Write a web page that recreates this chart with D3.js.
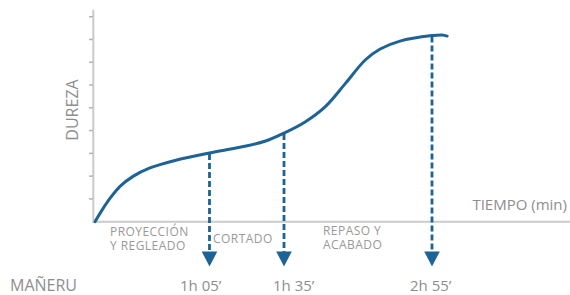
<!DOCTYPE html>
<html>
<head>
<meta charset="utf-8">
<script src="https://cdn.jsdelivr.net/npm/d3@7"></script>
<style>
  body { margin: 0; background: #fff; }
  text { font-family: "Open Sans", "Noto Sans", sans-serif; fill: #8e8e8e; }
</style>
</head>
<body>
<div id="chart"></div>
<script>
// curve: time in minutes (schematic) and hardness
var minutes = [0, 4, 8.5, 14.2, 21.6, 31.2, 45.4, 65, 77.3, 87.3, 95, 106.4, 117.2, 128, 138.9, 147, 157.7, 175, 180.5, 183.2];
var dureza  = [0, 0.51, 1.02, 1.55, 1.99, 2.36, 2.69, 3.02, 3.27, 3.53, 3.89, 4.38, 5.04, 6.05, 7.1, 7.58, 7.93, 8.17, 8.2, 8.15];

// moments marked with arrows
var markMinutes = [65, 95, 175];
var markLabels = ["1h 05\u2019", "1h 35\u2019", "2h 55\u2019"];

var yTicks = [1, 2, 3, 4, 5, 6, 7, 8, 9];

var phases = [
  { lines: ["PROYECCI\u00d3N", "Y REGLEADO"] },
  { lines: ["CORTADO"] },
  { lines: ["REPASO Y", "ACABADO"] }
];

var width = 570, height = 295;
var blue = "#1d6396";
var axisGray = "#cacaca";

var svg = d3.select("#chart").append("svg")
    .attr("width", width)
    .attr("height", height);

// the time axis is not to scale in the original, so piecewise
var x = d3.scaleLinear()
    .domain([0, 65, 95, 175, 240])
    .range([95, 209.5, 284, 432, 552]);
var y = d3.scaleLinear()
    .domain([0, 9])
    .range([221.7, 16.7]);

// axes
svg.append("line")
    .attr("x1", 93.3).attr("x2", 93.3)
    .attr("y1", y(9.3)).attr("y2", y(0) + 1)
    .attr("stroke", axisGray).attr("stroke-width", 2);
svg.append("line")
    .attr("x1", 93.3).attr("x2", width)
    .attr("y1", y(0)).attr("y2", y(0))
    .attr("stroke", axisGray).attr("stroke-width", 2);

svg.append("g").selectAll("line")
    .data(yTicks)
    .enter().append("line")
    .attr("x1", 89).attr("x2", 93)
    .attr("y1", function (d) { return y(d); })
    .attr("y2", function (d) { return y(d); })
    .attr("stroke", "#b4b4b4").attr("stroke-width", 1.5);

svg.append("text")
    .attr("transform", "translate(77.5,110) rotate(-90)")
    .attr("text-anchor", "middle")
    .style("font-size", "16px")
    .text("DUREZA");

svg.append("text")
    .attr("x", 567).attr("y", 210)
    .attr("text-anchor", "end")
    .style("font-size", "15px")
    .text("TIEMPO (min)");

// curve
var points = minutes.map(function (m, i) { return [m, dureza[i]]; });
var line = d3.line()
    .x(function (d) { return x(d[0]); })
    .y(function (d) { return y(d[1]); })
    .curve(d3.curveCatmullRom.alpha(0.5));

svg.append("path")
    .datum(points)
    .attr("d", line)
    .attr("fill", "none")
    .attr("stroke", blue)
    .attr("stroke-width", 3)
    .attr("stroke-linecap", "round");

// dashed drops + arrowheads
var arrowTop = 251.5, arrowTip = 266.5, arrowHalf = 7.8;
var interp = d3.scaleLinear().domain(minutes).range(dureza);

markMinutes.forEach(function (m, i) {
    var cx = x(m);
    svg.append("line")
        .attr("x1", cx).attr("x2", cx)
        .attr("y1", y(interp(m)) + 1).attr("y2", arrowTop + 1)
        .attr("stroke", blue)
        .attr("stroke-width", 2.8)
        .attr("stroke-dasharray", "6,3");
    svg.append("path")
        .attr("d", "M" + (cx - arrowHalf) + "," + arrowTop + "L" + (cx + arrowHalf) + "," + arrowTop + "L" + cx + "," + arrowTip + "Z")
        .attr("fill", blue);
});

// phase names under the axis
var phaseX = [110, 213, 323];
var phaseY = [[236, 250], [243], [235, 249.3]];
phases.forEach(function (p, i) {
    var t = svg.append("text")
        .attr("x", phaseX[i])
        .style("font-size", "12px")
        .style("letter-spacing", "0.45px")
        .style("fill", "#999");
    p.lines.forEach(function (s, j) {
        t.append("tspan")
            .attr("x", phaseX[i]).attr("y", phaseY[i][j])
            .text(s);
    });
});

// bottom row
svg.append("text")
    .attr("x", 10).attr("y", 291)
    .style("font-size", "16px")
    .text("MA\u00d1ERU");

var labelX = [180, 273, 410];
svg.append("g").selectAll("text")
    .data(markLabels)
    .enter().append("text")
    .attr("x", function (d, i) { return labelX[i]; })
    .attr("y", 291)
    .style("font-size", "15px")
    .text(function (d) { return d; });
</script>
</body>
</html>
